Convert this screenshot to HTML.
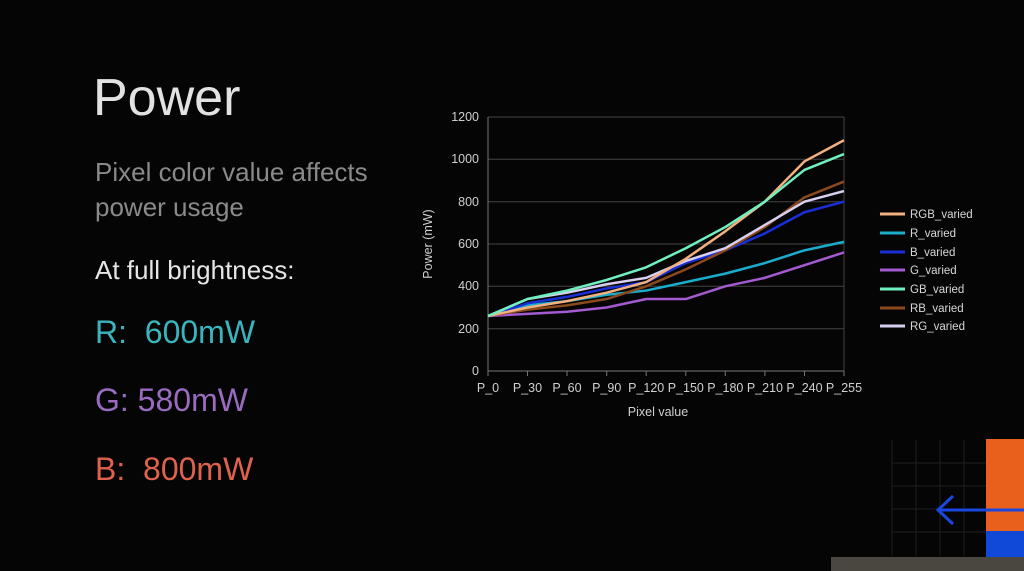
<!DOCTYPE html>
<html><head><meta charset="utf-8"><style>
html,body{margin:0;padding:0;background:#050505;}
body{width:1024px;height:571px;position:relative;overflow:hidden;font-family:"Liberation Sans",sans-serif;}
.t{position:absolute;white-space:nowrap;line-height:1;}
</style></head><body>
<div class="t" style="left:93px;top:72px;font-size:52px;color:#e2e2e2;">Power</div>
<div class="t" style="left:95px;top:159px;font-size:26px;color:#8a8a8a;">Pixel color value affects</div>
<div class="t" style="left:95px;top:194px;font-size:26px;color:#8a8a8a;">power usage</div>
<div class="t" style="left:95px;top:257px;font-size:26px;color:#e6e6e6;">At full brightness:</div>
<div class="t" style="left:95px;top:316px;font-size:32px;color:#3ab5bd;">R:&nbsp; 600mW</div>
<div class="t" style="left:95px;top:384px;font-size:32px;color:#9a6cc0;">G: 580mW</div>
<div class="t" style="left:95px;top:453px;font-size:32px;color:#e0624e;">B:&nbsp; 800mW</div>

<svg width="1024" height="571" style="position:absolute;left:0;top:0" font-family="Liberation Sans, sans-serif">
<g stroke="#444" stroke-width="1">
<line x1="488" x2="844" y1="117" y2="117"/><line x1="488" x2="844" y1="159.3" y2="159.3"/>
<line x1="488" x2="844" y1="201.7" y2="201.7"/><line x1="488" x2="844" y1="244" y2="244"/>
<line x1="488" x2="844" y1="286.3" y2="286.3"/><line x1="488" x2="844" y1="328.7" y2="328.7"/>
<line x1="844" x2="844" y1="117" y2="371"/>
</g>
<g stroke="#777" stroke-width="1"><line x1="488" x2="844" y1="371" y2="371"/><line x1="488" x2="488" y1="117" y2="371"/>
<line x1="488" x2="488" y1="371" y2="376"/><line x1="527.5" x2="527.5" y1="371" y2="376"/><line x1="567" x2="567" y1="371" y2="376"/><line x1="606.7" x2="606.7" y1="371" y2="376"/><line x1="646.2" x2="646.2" y1="371" y2="376"/><line x1="685.8" x2="685.8" y1="371" y2="376"/><line x1="725.3" x2="725.3" y1="371" y2="376"/><line x1="764.9" x2="764.9" y1="371" y2="376"/><line x1="804.5" x2="804.5" y1="371" y2="376"/><line x1="844" x2="844" y1="371" y2="376"/></g>
<g fill="#d0d0d0" font-size="12.5" text-anchor="end">
<text x="479" y="121">1200</text><text x="479" y="163">1000</text><text x="479" y="206">800</text>
<text x="479" y="248">600</text><text x="479" y="290">400</text><text x="479" y="333">200</text><text x="479" y="375">0</text>
</g>
<g fill="#d0d0d0" font-size="12.5" text-anchor="middle">
<text x="488" y="392">P_0</text><text x="527.5" y="392">P_30</text><text x="567" y="392">P_60</text>
<text x="606.7" y="392">P_90</text><text x="646.2" y="392">P_120</text><text x="685.8" y="392">P_150</text>
<text x="725.3" y="392">P_180</text><text x="764.9" y="392">P_210</text><text x="804.5" y="392">P_240</text><text x="844" y="392">P_255</text>
<text x="658" y="416">Pixel value</text>
<text transform="translate(432,244) rotate(-90)">Power (mW)</text>
</g>
<g transform="translate(488,371) scale(39.55,-0.21167)" fill="none" stroke-width="2.5" stroke-linejoin="round">
<polyline vector-effect="non-scaling-stroke" stroke="#a45ad0" points="0,260 1,270 2,280 3,300 4,340 5,340 6,400 7,440 8,500 9,560"/>
<polyline vector-effect="non-scaling-stroke" stroke="#1aaccc" points="0,260 1,310 2,330 3,360 4,380 5,420 6,460 7,510 8,570 9,610"/>
<polyline vector-effect="non-scaling-stroke" stroke="#1a2ed8" points="0,260 1,320 2,350 3,390 4,420 5,510 6,570 7,650 8,750 9,800"/>
<polyline vector-effect="non-scaling-stroke" stroke="#8a4a1e" points="0,260 1,290 2,310 3,340 4,400 5,480 6,570 7,680 8,820 9,895"/>
<polyline vector-effect="non-scaling-stroke" stroke="#d8d0f0" points="0,260 1,340 2,370 3,410 4,440 5,520 6,580 7,690 8,800 9,850"/>
<polyline vector-effect="non-scaling-stroke" stroke="#f0b080" points="0,260 1,300 2,330 3,370 4,420 5,530 6,660 7,800 8,990 9,1090"/>
<polyline vector-effect="non-scaling-stroke" stroke="#70f0c0" points="0,260 1,340 2,380 3,430 4,490 5,580 6,680 7,800 8,950 9,1025"/>
</g>
<g font-size="11.5" fill="#d8d8d8">
<line x1="880" x2="905" y1="214" y2="214" stroke="#f0b080" stroke-width="3"/><text x="910" y="218">RGB_varied</text>
<line x1="880" x2="905" y1="233" y2="233" stroke="#1aaccc" stroke-width="3"/><text x="910" y="237">R_varied</text>
<line x1="880" x2="905" y1="252" y2="252" stroke="#1a2ed8" stroke-width="3"/><text x="910" y="256">B_varied</text>
<line x1="880" x2="905" y1="270" y2="270" stroke="#a45ad0" stroke-width="3"/><text x="910" y="274">G_varied</text>
<line x1="880" x2="905" y1="289" y2="289" stroke="#70f0c0" stroke-width="3"/><text x="910" y="293">GB_varied</text>
<line x1="880" x2="905" y1="308" y2="308" stroke="#8a4a1e" stroke-width="3"/><text x="910" y="312">RB_varied</text>
<line x1="880" x2="905" y1="326" y2="326" stroke="#d8d0f0" stroke-width="3"/><text x="910" y="330">RG_varied</text>
</g>
<g stroke="#1e1e1e" stroke-width="1">
<line x1="892" x2="892" y1="440" y2="556"/><line x1="916" x2="916" y1="440" y2="556"/>
<line x1="940" x2="940" y1="440" y2="556"/><line x1="964" x2="964" y1="440" y2="556"/>
<line x1="892" x2="986" y1="463" y2="463"/><line x1="892" x2="986" y1="486" y2="486"/>
<line x1="892" x2="986" y1="509" y2="509"/><line x1="892" x2="986" y1="532" y2="532"/>
</g>
<rect x="986" y="439" width="38" height="92" fill="#e8601c"/>
<rect x="986" y="531" width="38" height="26" fill="#1048d8"/>
<rect x="831" y="557" width="193" height="14" fill="#4a4640"/>
<g stroke="#1848e0" stroke-width="3" fill="none">
<line x1="938" x2="1024" y1="510" y2="510"/>
<polyline points="953,496 938,510 953,524"/>
</g>
</svg>
</body></html>
